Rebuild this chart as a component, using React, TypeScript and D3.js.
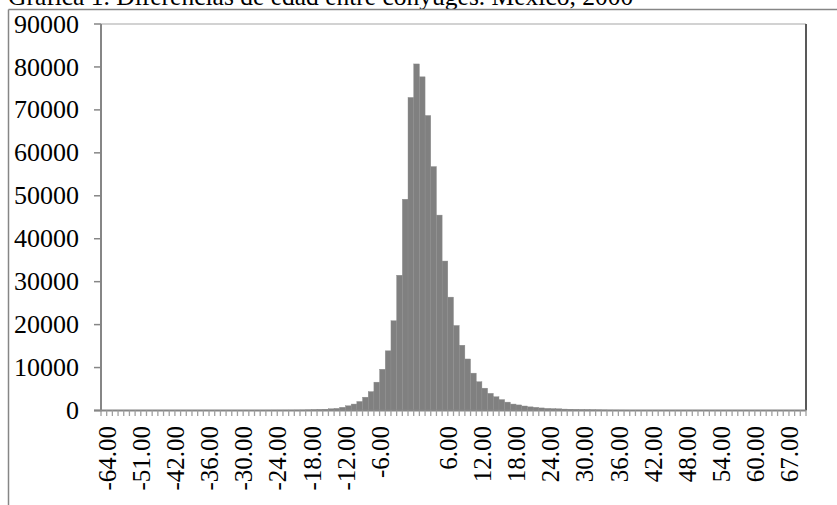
import React from "react";
import * as d3 from "d3";

// Age difference categories (years), as they appear on the category axis
const categories: number[] = [
  -64, -60, -58, -56, -54, -53, -51, -50, -48, -46, -45, -43,
  -42, -41, -40, -39, -38, -37, -36, -35, -34, -33, -32, -31, -30, -29, -28, -27, -26, -25,
  -24, -23, -22, -21, -20, -19, -18, -17, -16, -15, -14, -13, -12, -11, -10, -9, -8, -7,
  -6, -5, -4, -3, -2, -1, 0, 1, 2, 3, 4, 5, 6, 7, 8, 9, 10, 11, 12, 13, 14, 15, 16, 17,
  18, 19, 20, 21, 22, 23, 24, 25, 26, 27, 28, 29, 30, 31, 32, 33, 34, 35, 36, 37, 38, 39,
  40, 41, 42, 43, 44, 45, 46, 47, 48, 49, 50, 51, 52, 53, 54, 55, 56, 57, 58, 59, 60,
  61, 62, 63, 64, 66, 67, 69, 71, 75,
];

// Number of couples per category
const counts: number[] = [
  5, 3, 4, 6, 5, 8, 10, 9, 12, 14, 13, 18, 20, 22, 26, 28, 30, 33, 36, 40, 44, 48, 52, 56,
  60, 64, 68, 72, 76, 80, 85, 90, 95, 100, 110, 125,
  150, 200, 250, 300, 400, 500, 750, 1100, 1500, 2100, 3100, 4400, 6600, 9600, 13900, 20900,
  31500, 49200, 72900, 80700, 77700, 68700, 56800, 45500, 34800, 26400, 19800, 15200, 12000,
  8700, 6700, 5200, 4000, 3200, 2550, 1950, 1500, 1300, 1050, 850, 750, 600, 500, 450, 400,
  330, 300, 260, 220, 200, 170, 150, 130,
  110, 100, 90, 80, 70, 62, 55, 48, 42, 38, 33, 30, 26, 23, 20, 18, 16, 14, 12, 11, 10, 9,
  8, 7, 6, 6, 5, 4, 4, 3, 3, 2, 2, 2, 1,
];

// Labels shown under every sixth category (the one for 0 is blank in the original)
const tickLabels: string[] = [
  "-64.00", "-51.00", "-42.00", "-36.00", "-30.00", "-24.00", "-18.00", "-12.00", "-6.00", "",
  "6.00", "12.00", "18.00", "24.00", "30.00", "36.00", "42.00", "48.00", "54.00", "60.00", "67.00",
];
const labelEvery = 6;

const yTicks: number[] = [0, 10000, 20000, 30000, 40000, 50000, 60000, 70000, 80000, 90000];

const title = "Gráfica 1. Diferencias de edad entre cónyuges. México, 2000";

export default function App() {
  const W = 837;
  const H = 505;
  const left = 101;
  const right = 806;
  const top = 24;
  const bottom = 410.5;
  const font = "'Liberation Serif', 'Times New Roman', serif";

  const idx = categories.map((_, i) => i);
  const x = d3.scaleBand<number>().domain(idx).range([left, right]).padding(0);
  const y = d3.scaleLinear().domain([0, 90000]).range([bottom, top]);
  const bw = x.bandwidth();

  const boundaries = d3.range(categories.length + 1).map((i) => left + i * bw);

  return (
    <svg
      width={W}
      height={H}
      style={{ position: "absolute", left: 0, top: 0, background: "#fff" }}
      fontFamily={font}
    >
      <rect x={0} y={0} width={W} height={H} fill="#fff" />
      {/* title */}
      <text x={8} y={5} fontSize={25.5} fill="#000">
        {title}
      </text>
      {/* outer frame */}
      <line x1={8.5} y1={9.5} x2={W} y2={9.5} stroke="#868686" strokeWidth={1.5} />
      <line x1={8.5} y1={9.5} x2={8.5} y2={H} stroke="#868686" strokeWidth={1.5} />

      {/* plot area border */}
      <line x1={left} y1={top} x2={right} y2={top} stroke="#a6a6a6" strokeWidth={1.2} />
      <line x1={right} y1={top} x2={right} y2={bottom} stroke="#595959" strokeWidth={2} />

      {/* bars */}
      {counts.map((v, i) => (
        <rect
          key={i}
          x={x(i)}
          y={y(v)}
          width={bw}
          height={bottom - y(v)}
          fill="#808080"
          stroke="#8c8c8c"
          strokeWidth={0.4}
        />
      ))}

      {/* y axis */}
      <line x1={left} y1={top} x2={left} y2={bottom + 1} stroke="#868686" strokeWidth={2} />
      {yTicks.map((t) => (
        <g key={t}>
          <line x1={left - 7} y1={y(t)} x2={left} y2={y(t)} stroke="#868686" strokeWidth={1.5} />
          <text x={79} y={y(t)} dy="0.33em" textAnchor="end" fontSize={26} fill="#000">
            {t}
          </text>
        </g>
      ))}

      {/* x axis */}
      <line x1={left - 7} y1={bottom} x2={right} y2={bottom} stroke="#868686" strokeWidth={2} />
      {boundaries.map((bx, i) => (
        <line key={i} x1={bx} y1={bottom} x2={bx} y2={bottom + 5.5} stroke="#a0a0a0" strokeWidth={1.3} />
      ))}
      {tickLabels.map((lab, k) => {
        const cx = (x(k * labelEvery) as number) + bw / 2 + 12;
        const ty = 426;
        return (
          <text
            key={k}
            transform={`translate(${cx},${ty}) rotate(-90)`}
            textAnchor="end"
            fontSize={25}
            fill="#000"
          >
            {lab}
          </text>
        );
      })}
    </svg>
  );
}
